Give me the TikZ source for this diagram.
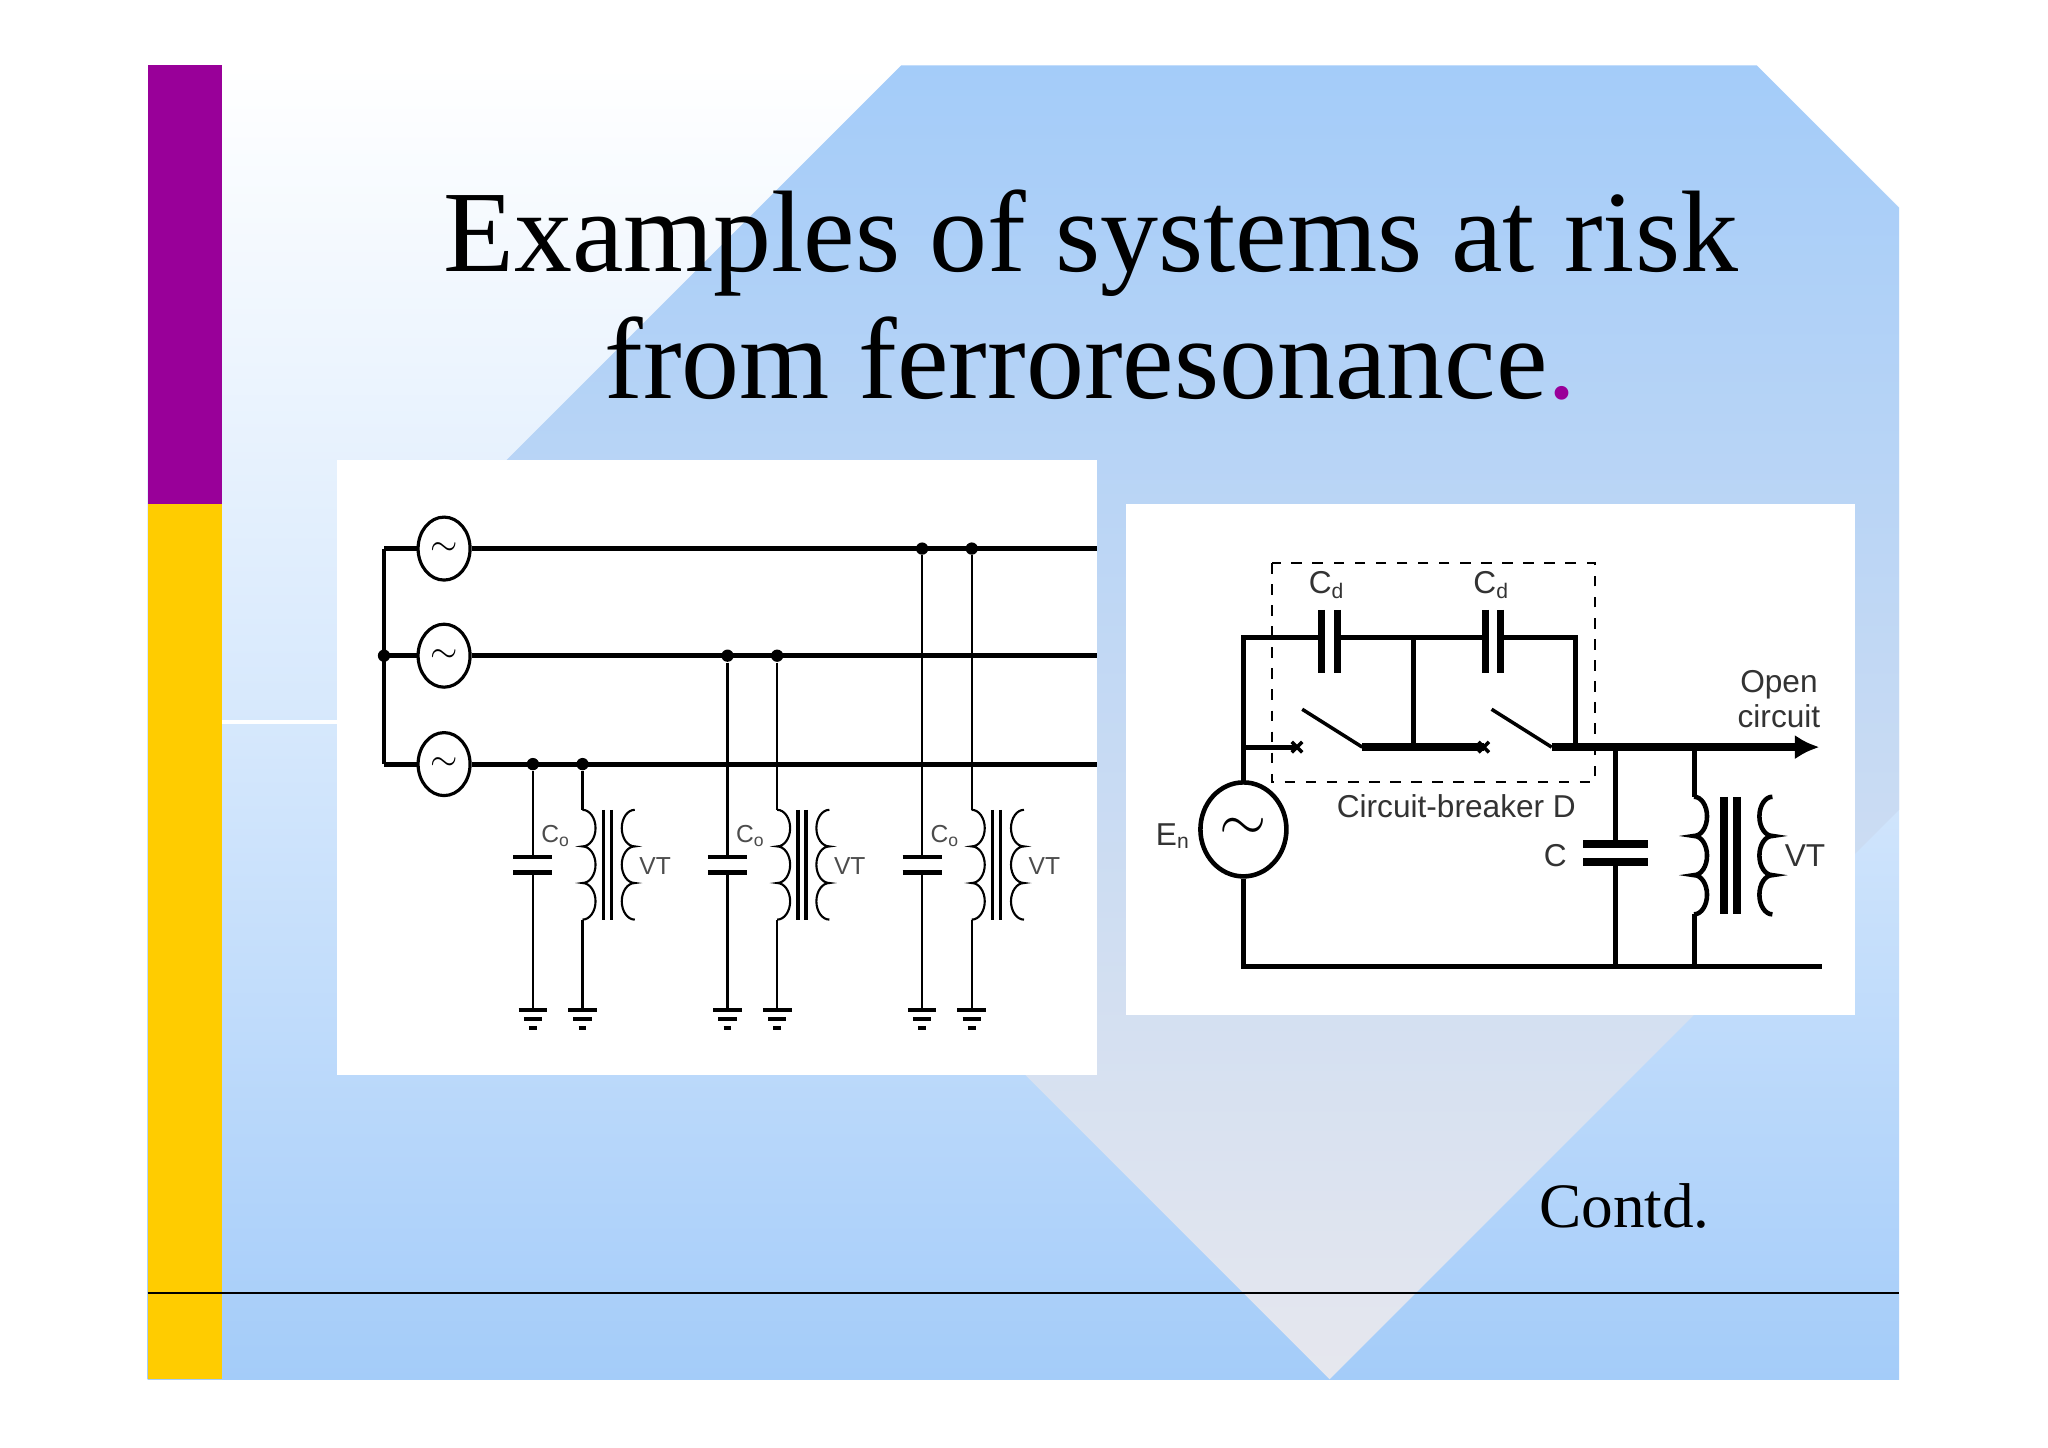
\documentclass[tikz,border=0pt]{standalone}
\usepackage{fontspec}
\setmainfont{Liberation Serif}
\setsansfont{Liberation Sans}
\usetikzlibrary{shapes.geometric,arrows.meta}
\definecolor{slideblue}{HTML}{A4CCF9}
\definecolor{diagray}{HTML}{E6E7EE}
\definecolor{barpurple}{HTML}{990099}
\definecolor{baryellow}{HTML}{FFCC00}
\tikzset{
  wire/.style={line width=1.4pt},
  thin wire/.style={line width=0.6pt},
  plate/.style={line width=1.3pt},
  dot/.style={circle,fill,inner sep=0pt,minimum size=3.5pt},
  src/.style={ellipse,draw,line width=0.9pt,fill=white,minimum width=0.52cm,minimum height=0.63cm,inner sep=0pt},
  lbl/.style={font=\sffamily\fontsize{7}{8}\selectfont,text=black!70,inner sep=0pt},
  rlbl/.style={font=\sffamily\fontsize{9}{10}\selectfont,text=black!80,inner sep=0pt,align=center},
}
% three bumps of a coil: x, y, side (+1 right, -1 left), bump half-height, style
\newcommand\coil[5]{%
  \draw[thin wire,#5] (#1,#2) arc[start angle=90,end angle=90-#3*180,x radius=0.13cm,y radius=#4]
    arc[start angle=90,end angle=90-#3*180,x radius=0.13cm,y radius=#4]
    arc[start angle=90,end angle=90-#3*180,x radius=0.13cm,y radius=#4];}
\newcommand\gnd[1]{%
  \draw[line width=1.2pt] (#1-11,773) -- (#1+11,773);
  \draw[line width=1.2pt] (#1-7,780) -- (#1+7,780);
  \draw[line width=1.2pt] (#1-3,787) -- (#1+3,787);}
\begin{document}
\begin{tikzpicture}[x=0.013061cm,y=-0.013061cm]
\useasboundingbox (0,0) rectangle (1568,1108);
\fill[white] (0,0) rectangle (1568,1108);
% slide background
\shade[top color=white,bottom color=slideblue,middle color=slideblue!45] (113,50) rectangle (1454,1056);
\shade[top color=slideblue,bottom color=diagray] (690,50) -- (1345,50) -- (1454,159) -- (1454,620) -- (1018,1056) -- (351,389) -- cycle;
\fill[white] (1345,49) -- (1455,49) -- (1455,159) -- cycle;
\fill[barpurple] (113,50) rectangle (170,386);
\fill[baryellow] (113,386) rectangle (170,1056);
\draw[white,line width=1.2pt] (170,553) -- (258,553);
\draw[line width=0.6pt] (113,990) -- (1454,990);
% title
\node[font=\fontsize{33}{36}\selectfont,align=center,inner sep=0pt,anchor=base] (title) at (835,305)
  {Examples of systems at risk\\from ferroresonance\textcolor{barpurple}{.}};
\node[font=\fontsize{18}{21}\selectfont,anchor=base west,inner sep=0pt] (contd) at (1178,940) {Contd.};
% panels
\fill[white] (258,352) rectangle (840,823);
\fill[white] (862,386) rectangle (1420,777);
% three-phase network
\draw[wire] (294,420) -- (294,585);
\foreach \y/\n in {420/1,502/2,585/3} {
  \node[src] (s\n) at (340,\y) {$\sim$};
  \draw[wire] (294,\y) -- (s\n.west);
  \draw[wire] (s\n.east) -- (840,\y);
}
\node[dot] (n0) at (294,502) {};
\foreach \x/\y in {408/585,557/502,706/420} {
  \node[dot] (c\x) at (\x,\y) {};
  \node[dot] (v\x) at (\x+38,\y) {};
  \draw[thin wire] (c\x) -- (\x,656);
  \draw[plate] (\x-15,656) -- (\x+15,656);
  \draw[plate] (\x-15,668) -- (\x+15,668);
  \draw[thin wire] (\x,668) -- (\x,773);
  \node[lbl,anchor=west] (co\x) at (\x+6,640) {C\textsubscript{o}};
  \draw[thin wire] (v\x) -- (\x+38,620);
  \coil{\x+38}{620}{1}{0.183cm}{}
  \draw[thin wire] (\x+38,704) -- (\x+38,773);
  \draw[line width=1pt] (\x+54,620) -- (\x+54,704);
  \draw[line width=1pt] (\x+60,620) -- (\x+60,704);
  \coil{\x+78}{620}{-1}{0.183cm}{}
  \node[lbl,anchor=west] (vt\x) at (\x+81,663) {VT};
  \gnd{\x}
  \gnd{\x+38}
}
% single-phase circuit
\node[src,minimum width=0.86cm,minimum height=0.94cm,line width=1.3pt,font=\LARGE] (En) at (952,635) {$\sim$};
\node[rlbl,anchor=east] (enl) at (912,640) {E\textsubscript{n}};
\draw[wire] (En.north) -- (952,488) -- (1012,488);
\draw[wire] (1024,488) -- (1137,488);
\draw[wire] (1149,488) -- (1206,488) -- (1206,572);
\draw[wire] (1082,488) -- (1082,572);
\foreach \x in {1012,1024,1137,1149} \draw[line width=2pt] (\x,467) -- (\x,515);
\node[rlbl] (cd1) at (1016,448) {C\textsubscript{d}};
\node[rlbl] (cd2) at (1142,448) {C\textsubscript{d}};
\draw[wire] (952,572) -- (993,572);
\draw[line width=1pt] (997,543) -- (1043,572);
\draw[line width=2.2pt] (1043,572) -- (1136,572);
\draw[line width=1pt] (1142,543) -- (1188,572);
\draw[line width=2.2pt,-{Latex[length=7pt,width=7pt]}] (1188,572) -- (1393,572);
\foreach \x in {993,1136} \draw[line width=1pt] (\x-4,568) -- (\x+4,576) (\x-4,576) -- (\x+4,568);
\draw[dashed,thin wire] (974,431) rectangle (1221,599);
\node[rlbl] (cb) at (1115,617) {Circuit-breaker D};
\node[rlbl] (oc) at (1362,535) {Open\\circuit};
\draw[wire] (1237,572) -- (1237,646);
\draw[line width=2.2pt] (1212,646) -- (1262,646);
\draw[line width=2.2pt] (1212,660) -- (1262,660);
\draw[wire] (1237,660) -- (1237,740);
\node[rlbl,anchor=east] (cl) at (1200,655) {C};
\draw[wire] (1297,572) -- (1297,610);
\coil{1297}{610}{1}{0.196cm}{line width=1.3pt}
\draw[wire] (1297,700) -- (1297,740);
\draw[line width=2.2pt] (1320,610) -- (1320,700);
\draw[line width=2.2pt] (1330,610) -- (1330,700);
\coil{1357}{610}{-1}{0.196cm}{line width=1.3pt}
\node[rlbl,anchor=west] (vtr) at (1366,655) {VT};
\draw[wire] (En.south) -- (952,740) -- (1395,740);
\end{tikzpicture}
\end{document}
